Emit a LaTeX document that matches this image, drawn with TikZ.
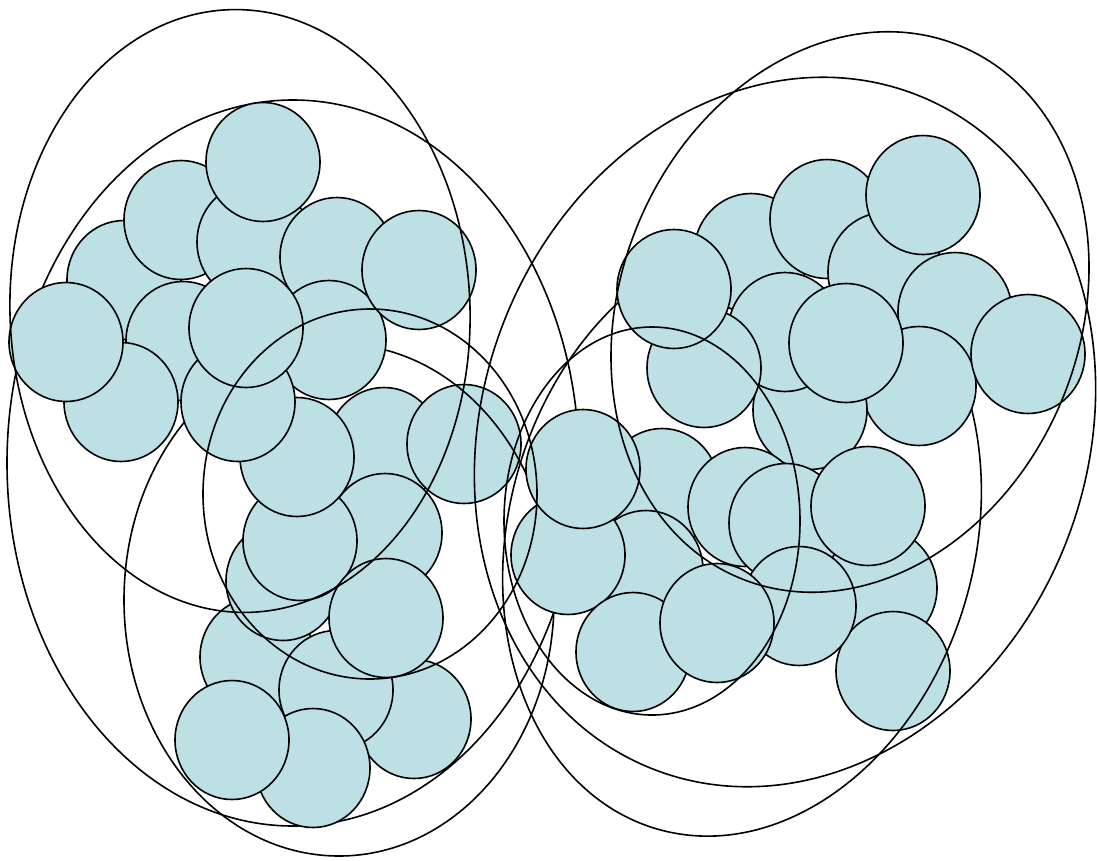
\documentclass[tikz,border=0pt]{standalone}
\usetikzlibrary{shapes.geometric}
\definecolor{bubble}{RGB}{188,224,227}
\tikzset{
  bub/.style={ellipse, draw, fill=bubble, line width=1.6pt, inner sep=0pt, minimum width=114pt, minimum height=119pt},
  grp/.style={ellipse, draw, line width=1.6pt, inner sep=0pt}
}
\begin{document}
\begin{tikzpicture}[x=1pt,y=-1pt]
\useasboundingbox (0,0) rectangle (1097,860);
% rings that sit under the bubbles
\node[grp, minimum width=572pt, minimum height=726pt] (g2) at (293,463) {};
\foreach \n/\x/\y in {13/384/447, 14/464/444} \node[bub] (b\n) at (\x,\y) {};
\node[grp, minimum width=430pt, minimum height=512pt] (g3) at (339,600) {};
\foreach \n/\x/\y in {35/880/588, 36/893/671} \node[bub] (b\n) at (\x,\y) {};
\node[grp, minimum width=466pt, minimum height=612pt, rotate=-16] (g8) at (742,535) {};
% left bubbles
\foreach \n/\x/\y in {3/124/280, 2/181/220, 4/254/242, 1/263/162, 5/337/257, 11/329/340,
    6/419/270, 9/183/341, 8/121/402, 7/66/342, 16/385/533, 20/257/657, 17/283/581,
    18/300/541, 15/297/457, 12/238/402, 10/246/328, 22/414/719, 21/336/690,
    24/313/768, 23/232/740, 19/386/618}
  \node[bub] (b\n) at (\x,\y) {};
% right bubbles
\foreach \n/\x/\y in {37/751/253, 38/827/219, 40/885/272, 39/923/195, 45/955/312,
    46/919/386, 47/810/410, 42/785/332, 43/704/368, 41/674/289, 44/846/343,
    48/1028/354, 27/662/488, 28/646/570, 26/568/555, 25/583/469, 31/745/507,
    32/786/523, 33/868/506, 34/799/606, 29/633/652, 30/717/623}
  \node[bub] (b\n) at (\x,\y) {};
% rings on top
\node[grp, minimum width=460pt, minimum height=603pt, rotate=2] (g1) at (240,311) {};
\node[grp, minimum width=334pt, minimum height=370pt] (g4) at (370,494) {};
\node[grp, minimum width=604pt, minimum height=724pt, rotate=-21.3] (g5) at (785,432) {};
\node[grp, minimum width=459pt, minimum height=576pt, rotate=-22.5] (g6) at (850,312) {};
\node[grp, minimum width=296pt, minimum height=388pt] (g7) at (652,521) {};
\end{tikzpicture}
\end{document}
